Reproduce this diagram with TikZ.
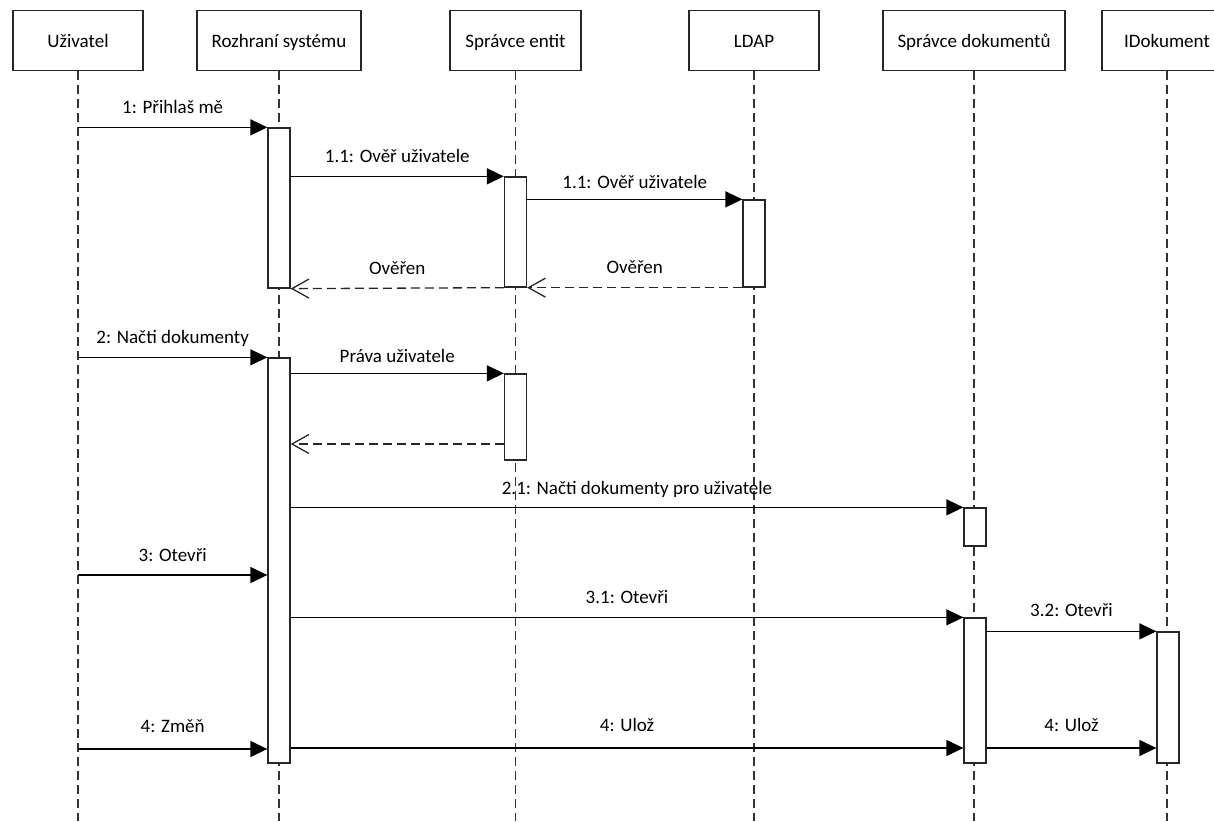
\documentclass[tikz,border=0pt]{standalone}
\usepackage{fontspec}
\setmainfont{Carlito}
\usetikzlibrary{arrows.meta}
\begin{document}
\begin{tikzpicture}[x=1pt,y=-1pt, font=\fontsize{19}{23}\selectfont,
 hdr/.style={draw=black!85, line width=1.3pt, fill=white, minimum height=60pt, inner sep=0pt, text height=15pt, text depth=0pt},
 act/.style={draw=black!85, line width=1.3pt, fill=white, minimum width=22pt, inner sep=0pt},
 life/.style={draw=black!80, line width=1.3pt, dash pattern=on 9pt off 5pt},
 msg/.style={draw=black, line width=1.3pt, -{Triangle[length=17pt,width=16pt]}},
 ret/.style={draw=black!85, line width=1.3pt, dash pattern=on 9pt off 5pt, -{Straight Barb[length=17pt,width=19pt,line width=1.3pt]}},
 lbl/.style={anchor=base, yshift=14pt, inner sep=0pt}]
\path[use as bounding box, clip] (0,0) rectangle (1214,821);
% headers
\node[hdr, minimum width=130pt] (h1) at (78,40.5) {Uživatel};
\node[hdr, minimum width=164pt] (h2) at (279,40.5) {Rozhraní systému};
\node[hdr, minimum width=131pt] (h3) at (515.5,40.5) {Správce entit};
\node[hdr, minimum width=130pt] (h4) at (754,40.5) {LDAP};
\node[hdr, minimum width=182pt] (h5) at (974,40.5) {Správce dokumentů};
\node[hdr, minimum width=130pt] (h6) at (1167,40.5) {IDokument};
% lifelines
\draw[life] (h1.south) -- (h1.south |- 0,821);
\draw[life] (h2.south) -- (h2.south |- 0,821);
\draw[life] (h3.south) -- (h3.south |- 0,821);
\draw[life] (h4.south) -- (h4.south |- 0,821);
\draw[life] (h5.south) -- (h5.south |- 0,821);
\draw[life] (h6.south) -- (h6.south |- 0,821);
% activations
\node[act, minimum height=160pt] (r1) at (279,208) {};
\node[act, minimum height=405pt] (r2) at (279,560.5) {};
\node[act, minimum height=110pt] (e1) at (515.5,232) {};
\node[act, minimum height=86pt] (e2) at (515.5,417) {};
\node[act, minimum height=87pt] (l1) at (754,243.5) {};
\node[act, minimum height=38pt] (d1) at (975,527) {};
\node[act, minimum height=145pt] (d2) at (975,690.5) {};
\node[act, minimum height=131pt] (i1) at (1168,697.5) {};
% messages
\draw[msg] (h1 |- r1.north) -- (r1.north west) node[midway,lbl]{1: Přihlaš mě};
\draw[msg] (r1.east |- e1.north) -- (e1.north west) node[midway,lbl]{1.1: Ověř uživatele};
\draw[msg] (e1.east |- l1.north) -- (l1.north west) node[midway,lbl,yshift=-3pt]{1.1: Ověř uživatele};
\draw[ret] (l1.south west) -- (e1.east |- l1.south) node[midway,lbl]{Ověřen};
\draw[ret] (e1.south west) -- (r1.south east) node[midway,lbl]{Ověřen};
\draw[msg] (h1 |- r2.north) -- (r2.north west) node[midway,lbl]{2: Načti dokumenty};
\draw[msg] (r2.east |- e2.north) -- (e2.north west) node[midway,lbl,yshift=-3pt]{Práva uživatele};
\draw[ret] (e2.west |- 0,444) -- (r2.east |- 0,444);
\draw[msg] (r2.east |- d1.north) -- (d1.north west) node[midway,lbl,xshift=10pt,yshift=-1pt]{2.1: Načti dokumenty pro uživatele};
\draw[msg] (h1 |- 0,575) -- (r2.west |- 0,575) node[midway,lbl]{3: Otevři};
\draw[msg] (r2.east |- d2.north) -- (d2.north west) node[midway,lbl]{3.1: Otevři};
\draw[msg] (d2.east |- i1.north) -- (i1.north west) node[midway,lbl,yshift=1pt]{3.2: Otevři};
\draw[msg] (h1 |- 0,749) -- (r2.west |- 0,749) node[midway,lbl,yshift=3pt]{4: Změň};
\draw[msg] (r2.east |- 0,748) -- (d2.west |- 0,748) node[midway,lbl,yshift=3pt]{4: Ulož};
\draw[msg] (d2.east |- 0,748) -- (i1.west |- 0,748) node[midway,lbl,yshift=3pt]{4: Ulož};
\end{tikzpicture}
\end{document}
